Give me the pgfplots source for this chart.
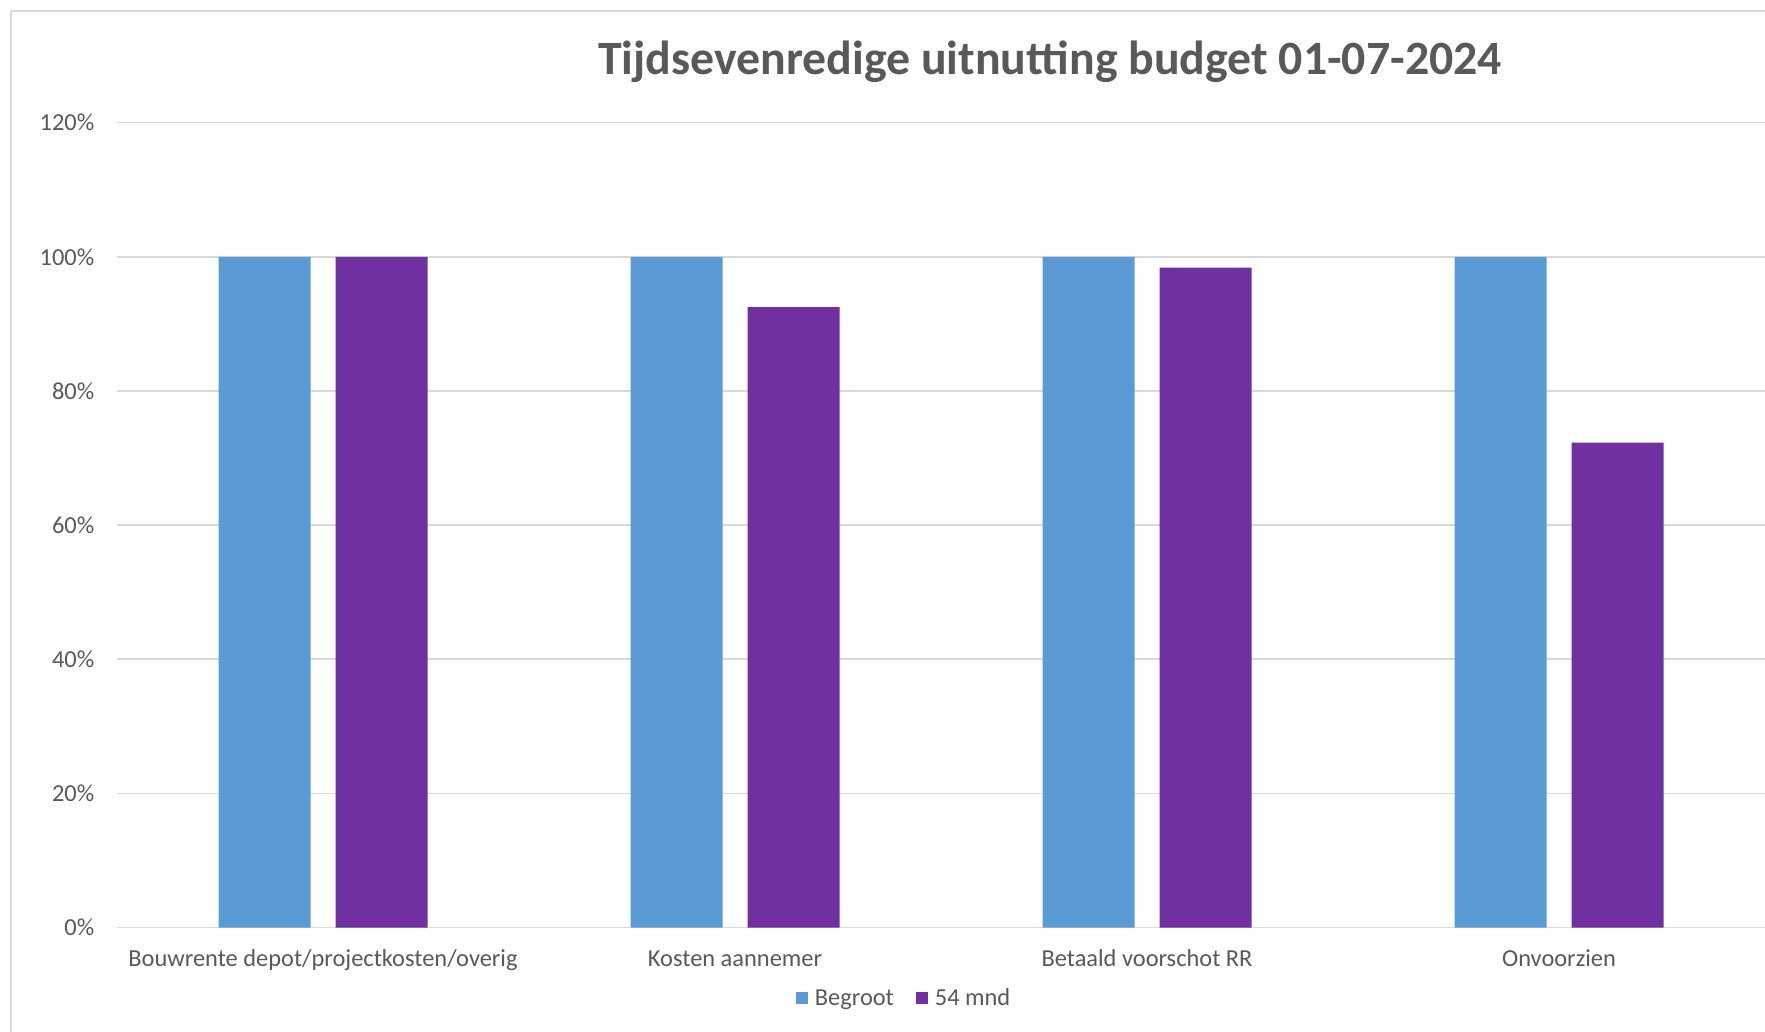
\documentclass[border=0pt]{standalone}
\usepackage{fontspec}
\setmainfont{Carlito}
\usepackage{pgfplots}
\pgfplotsset{compat=1.18}
\definecolor{cblue}{HTML}{5B9BD5}
\definecolor{cpurple}{HTML}{7030A0}
\definecolor{ctext}{HTML}{595959}
\definecolor{cgrid}{HTML}{D9D9D9}
\begin{document}
\begin{tikzpicture}[x=1bp,y=1bp]
\useasboundingbox (0,0) rectangle (1765,1031);
\fill[white] (0,0) rectangle (1765,1031);
\draw[cgrid, line width=2bp] (11,-5) -- (11,1020) -- (1770,1020);
\node[anchor=base, text=ctext, font=\bfseries\fontsize{48}{56}\selectfont] at (1050,956) {Tijdsevenredige uitnutting budget 01-07-2024};
\begin{axis}[
  at={(117bp,103.5bp)}, anchor=south west,
  scale only axis, width=1648bp, height=804.8bp,
  xmin=-0.5, xmax=3.5, ymin=0, ymax=120,
  ybar=25bp, bar width=92bp,
  axis line style={draw=none},
  major tick length=0pt,
  ymajorgrids, grid style={cgrid, line width=1.6bp},
  ytick={0,20,40,60,80,100,120},
  yticklabel={\pgfmathprintnumber{\tick}\%},
  /pgf/number format/assume math mode=true,
  yticklabel style={anchor=east, inner sep=0pt, xshift=-22.5bp, text=ctext, font=\fontsize{24.5}{29}\selectfont},
  xtick={0,1,2,3},
  xticklabels={Bouwrente depot/projectkosten/overig, Kosten aannemer, Betaald voorschot RR, Onvoorzien},
  xticklabel style={anchor=base, inner sep=0pt, yshift=-39bp, text=ctext, font=\fontsize{24.5}{29}\selectfont},
  legend columns=2,
  legend style={at={([yshift=-70.5bp]axis description cs:0.477,0)}, anchor=center, draw=none, fill=none,
    font=\fontsize{24.5}{29}\selectfont, text=ctext,
    /tikz/every odd column/.append style={column sep=7bp},
    /tikz/every even column/.append style={column sep=22bp},
    nodes={inner sep=0pt, anchor=west}},
  clip=false,
]
\addplot[fill=cblue, draw=none, legend image code/.code={\fill[cblue] (0bp,-6bp) rectangle (12bp,6bp);}] coordinates {(0,100) (1,100) (2,100) (3,100)};
\addplot[fill=cpurple, draw=none, legend image code/.code={\fill[cpurple] (0bp,-6bp) rectangle (12bp,6bp);}] coordinates {(0,100) (1,92.5) (2,98.4) (3,72.3)};
\legend{Begroot, 54 mnd}
\end{axis}
\end{tikzpicture}
\end{document}
